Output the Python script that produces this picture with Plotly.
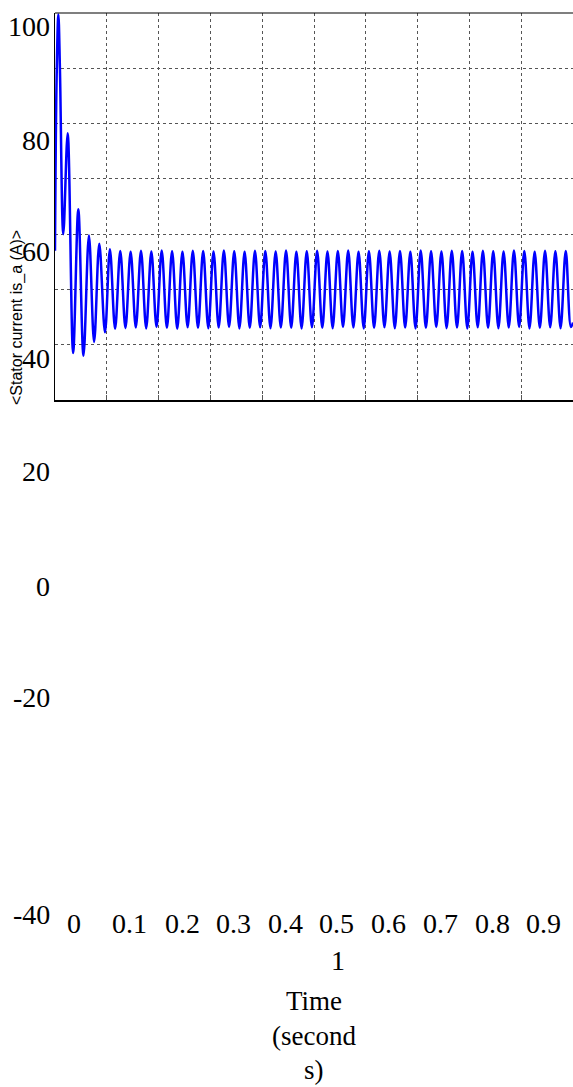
import plotly.graph_objects as go

# Stator current is_a: turning points of the simulated waveform
time_s = [
    0.000, 0.003, 0.0065, 0.0095, 0.016, 0.0245, 0.035, 0.045, 0.055, 0.0655,
    0.0755, 0.0855, 0.0965,
    0.106, 0.116, 0.126, 0.136, 0.146, 0.156, 0.166, 0.176, 0.186, 0.196,
    0.206, 0.216, 0.226, 0.236, 0.246, 0.256, 0.266, 0.276, 0.286, 0.296,
    0.306, 0.316, 0.326, 0.336, 0.346, 0.356, 0.366, 0.376, 0.386, 0.396,
    0.406, 0.416, 0.426, 0.436, 0.446, 0.456, 0.466, 0.476, 0.486, 0.496,
    0.506, 0.516, 0.526, 0.536, 0.546, 0.556, 0.566, 0.576, 0.586, 0.596,
    0.606, 0.616, 0.626, 0.636, 0.646, 0.656, 0.666, 0.676, 0.686, 0.696,
    0.706, 0.716, 0.726, 0.736, 0.746, 0.756, 0.766, 0.776, 0.786, 0.796,
    0.806, 0.816, 0.826, 0.836, 0.846, 0.856, 0.866, 0.876, 0.886, 0.896,
    0.906, 0.916, 0.926, 0.936, 0.946, 0.956, 0.966, 0.976, 0.986, 0.996,
    1.000,
]
current_a = [
    14.0, 75.0, 99.5, 80.0, 20.0, 56.5, -23.0, 29.0, -24.0, 19.5,
    -19.0, 16.5, -15.5,
    14.5, -14.2, 13.9, -14.0, 13.6, -13.8, 14.0, -14.1, 13.7, -13.6,
    14.1, -13.9, 13.8, -14.2, 13.6, -13.7, 14.0, -13.9, 13.9, -14.0,
    13.7, -13.8, 14.1, -13.6, 13.8, -14.1, 13.6, -13.9, 14.0, -13.7,
    13.9, -14.0, 13.7, -13.8, 14.1, -13.9, 13.6, -14.1, 13.8, -13.7,
    14.0, -13.9, 13.7, -14.0, 13.9, -13.6, 14.1, -13.8, 13.6, -14.1,
    13.8, -13.9, 14.0, -13.7, 13.7, -14.0, 13.9, -13.8, 13.6, -14.1,
    14.1, -13.9, 13.8, -13.6, 13.7, -14.0, 14.0, -13.8, 13.9, -14.1,
    13.6, -13.7, 14.0, -13.9, 13.8, -14.0, 13.7, -13.8, 14.1, -13.6,
    13.9, -14.1, 13.6, -13.9, 14.0, -13.7, 13.8, -14.0, 13.9, -13.6,
    -12.0,
]

y_tick_labels = ["100", "80", "60", "40", "20", "0", "-20", "-40"]
x_tick_labels = ["0", "0.1", "0.2", "0.3", "0.4", "0.5", "0.6", "0.7", "0.8", "0.9"]
x_last_label = "1"
x_title_lines = ["Time", "(second", "s)"]
y_title = "<Stator current is_a (A)>"

# Page geometry (pixels) of the plotting box
W, H = 573, 1087
L, T, R, B = 55, 13, 573, 400


def px(x):
    return (x - L) / (R - L)


def py(y):
    return (B - y) / (B - T)


# Where the loose labels sit on the page (pixel centres)
y_label_rows = [26, 140, 251, 358, 472, 586, 697, 914]
x_label_cols = [73.5, 129.5, 182, 233.5, 285, 336.5, 388.5, 440, 492, 543.5]
x_label_row = 923
last_label_pos = (338, 960)
title_col = 314
title_rows = [1001, 1036, 1070]

serif = dict(family="Liberation Serif, Times New Roman, serif", size=28, color="black")

fig = go.Figure()
fig.add_trace(go.Scatter(
    x=time_s, y=current_a, mode="lines",
    line=dict(color="#0000ff", width=2.5, shape="spline", smoothing=1.0),
    hoverinfo="skip", showlegend=False,
))

annotations = []
for text, row in zip(y_tick_labels, y_label_rows):
    annotations.append(dict(x=px(52), y=py(row), xref="paper", yref="paper",
                            text=text, showarrow=False, xanchor="right",
                            yanchor="middle", font=serif))
for text, col in zip(x_tick_labels, x_label_cols):
    annotations.append(dict(x=px(col), y=py(x_label_row), xref="paper", yref="paper",
                            text=text, showarrow=False, xanchor="center",
                            yanchor="middle", font=serif))
annotations.append(dict(x=px(last_label_pos[0]), y=py(last_label_pos[1]),
                        xref="paper", yref="paper", text=x_last_label,
                        showarrow=False, xanchor="center", yanchor="middle", font=serif))
for text, row in zip(x_title_lines, title_rows):
    annotations.append(dict(x=px(title_col), y=py(row), xref="paper", yref="paper",
                            text=text, showarrow=False, xanchor="center",
                            yanchor="middle", font=dict(serif, size=27)))
annotations.append(dict(x=px(17), y=py(318), xref="paper", yref="paper",
                        text=y_title, showarrow=False, textangle=-90,
                        xanchor="center", yanchor="middle",
                        font=dict(family="Liberation Sans, Arial, sans-serif",
                                  size=16, color="black")))

fig.update_layout(
    width=W, height=H,
    margin=dict(l=L, r=W - R, t=T, b=H - B, pad=0),
    paper_bgcolor="white", plot_bgcolor="white",
    annotations=annotations,
    shapes=[dict(type="line", xref="paper", yref="paper", x0=0, x1=1, y0=1, y1=1,
                 line=dict(color="black", width=1.2))],
    xaxis=dict(range=[0, 1], dtick=0.1, tick0=0, showticklabels=False,
               showgrid=True, gridcolor="#555555", griddash="dot", gridwidth=1,
               showline=True, linecolor="black", linewidth=2, mirror=False,
               ticks="inside", ticklen=5, tickcolor="#555555", tickwidth=1,
               zeroline=False, fixedrange=True),
    yaxis=dict(range=[-40, 100], dtick=20, tick0=0, showticklabels=False,
               showgrid=True, gridcolor="#555555", griddash="dot", gridwidth=1,
               showline=True, linecolor="black", linewidth=1, mirror=False,
               ticks="", zeroline=False, fixedrange=True),
)

fig.write_html("out.html", config={"displayModeBar": False})
